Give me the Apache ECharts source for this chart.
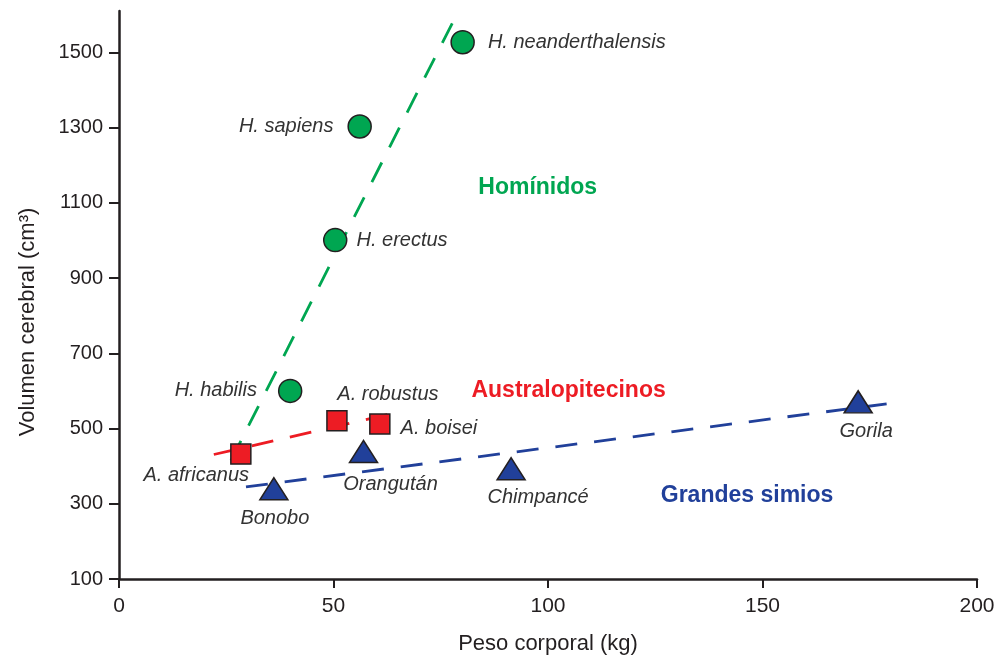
<!DOCTYPE html>
<html>
<head>
<meta charset="utf-8">
<script src="https://cdn.jsdelivr.net/npm/echarts@6/dist/echarts.min.js"></script>
<style>html,body{margin:0;padding:0;background:#fff}#c{width:998px;height:662px}</style>
</head>
<body>
<div id="c"></div>
<script>
// ---- data ----
var hominidNames = ['H. neanderthalensis', 'H. sapiens', 'H. erectus', 'H. habilis'];
var hominidMass = [80.1, 56.1, 50.4, 39.9];
var hominidBrain = [1527, 1303, 1001, 600];

var australNames = ['A. africanus', 'A. robustus', 'A. boisei'];
var australMass = [28.4, 50.8, 60.8];
var australBrain = [432, 521, 512];

var apeNames = ['Bonobo', 'Orangután', 'Chimpancé', 'Gorila'];
var apeMass = [36.1, 57.0, 91.4, 172.3];
var apeBrain = [340, 439, 393, 571];

var hominidTrend = [[26.1, 415], [77.8, 1580]];
var australTrend = [[22.1, 431], [65.7, 545]];
var apeTrend = [[29.6, 345], [180.0, 567]];

var groupNames = ['Homínidos', 'Australopitecinos', 'Grandes simios'];
var groupMass = [97.6, 104.8, 146.4];
var groupBrain = [1140, 601, 322];

var xTicks = [0, 50, 100, 150, 200];
var yTicks = [100, 300, 500, 700, 900, 1100, 1300, 1500];

// ---- styles ----
var GREEN = '#00A651', RED = '#ED1C24', BLUE = '#21409A', INK = '#231F20';
var FONT = '"Liberation Sans", Arial, Helvetica, sans-serif';

var labelPlacement = {
  'H. neanderthalensis': {position: 'right', distance: 13},
  'H. sapiens': {position: 'left', distance: 14},
  'H. erectus': {position: 'right', distance: 9},
  'H. habilis': {position: 'left', distance: 21},
  'A. africanus': {position: 'left', distance: 0, offset: [19, 21]},
  'A. robustus': {position: 'top', distance: 5, offset: [51, 0]},
  'A. boisei': {position: 'right', distance: 10, offset: [0, 4]},
  'Bonobo': {position: 'bottom', distance: 8, offset: [1, 0]},
  'Orangután': {position: 'bottom', distance: 11, offset: [27, 0]},
  'Chimpancé': {position: 'bottom', distance: 7, offset: [27, 0]},
  'Gorila': {position: 'bottom', distance: 8, offset: [8, 0]}
};

function pts(names, xs, ys) {
  return names.map(function (n, i) {
    var p = labelPlacement[n] || {};
    return {
      name: n, value: [xs[i], ys[i]],
      label: {position: p.position, distance: p.distance, offset: p.offset || [0, 0]}
    };
  });
}

var ptLabel = {
  show: true, formatter: '{b}', color: '#333333', fontStyle: 'italic',
  fontSize: 20, fontFamily: FONT
};

function trend(data, color) {
  return {
    type: 'line', data: data, symbol: 'none', silent: true, z: 1,
    lineStyle: {color: color, width: 2.8, type: [22, 17]}
  };
}

var groupColors = [GREEN, RED, BLUE];

var option = {
  animation: false,
  backgroundColor: '#fff',
  textStyle: {fontFamily: FONT},
  grid: {left: 119, right: 21, top: 11, bottom: 83, containLabel: false},
  xAxis: {
    type: 'value', min: 0, max: 200, interval: 50,
    name: 'Peso corporal (kg)', nameLocation: 'middle', nameGap: 54,
    nameTextStyle: {fontSize: 22, color: INK, fontFamily: FONT},
    axisLine: {show: true, onZero: false, lineStyle: {color: INK, width: 2.5}},
    axisTick: {show: true, length: 9, lineStyle: {color: INK, width: 2}, customValues: xTicks},
    axisLabel: {fontSize: 21, color: INK, margin: 17, fontFamily: FONT, customValues: xTicks},
    splitLine: {show: false}
  },
  yAxis: {
    type: 'value', min: 100, max: 1610, interval: 200,
    name: 'Volumen cerebral (cm³)', nameLocation: 'middle', nameGap: 80,
    nameTextStyle: {fontSize: 22, color: INK, fontFamily: FONT, padding: [0, 54, 0, 0]},
    axisLine: {show: true, onZero: false, lineStyle: {color: INK, width: 2.5}},
    axisTick: {show: true, length: 10, lineStyle: {color: INK, width: 2}, customValues: yTicks},
    axisLabel: {
      fontSize: 20, color: INK, margin: 16, fontFamily: FONT, customValues: yTicks,
      formatter: function (v) { return String(v); }
    },
    splitLine: {show: false}
  },
  series: [
    trend(hominidTrend, GREEN),
    trend(australTrend, RED),
    trend(apeTrend, BLUE),
    {
      type: 'scatter', symbol: 'circle', symbolSize: 23, z: 3,
      itemStyle: {color: GREEN, borderColor: INK, borderWidth: 1.5, opacity: 1},
      label: ptLabel, data: pts(hominidNames, hominidMass, hominidBrain)
    },
    {
      type: 'scatter', symbol: 'rect', symbolSize: 20, z: 3,
      itemStyle: {color: RED, borderColor: INK, borderWidth: 1.5, opacity: 1},
      label: ptLabel, data: pts(australNames, australMass, australBrain)
    },
    {
      type: 'scatter', symbol: 'triangle', symbolSize: [28, 22], z: 3,
      itemStyle: {color: BLUE, borderColor: INK, borderWidth: 1.5, opacity: 1},
      label: ptLabel, data: pts(apeNames, apeMass, apeBrain)
    },
    {
      type: 'scatter', symbolSize: 1, silent: true, z: 4,
      itemStyle: {color: 'rgba(0,0,0,0)', opacity: 1},
      data: groupNames.map(function (n, i) {
        return {
          name: n, value: [groupMass[i], groupBrain[i]],
          label: {
            show: true, position: 'inside', formatter: '{b}', color: groupColors[i],
            fontWeight: 'bold', fontSize: 23, fontFamily: FONT
          }
        };
      })
    }
  ]
};

var chart = echarts.init(document.getElementById('c'), null, {renderer: 'canvas'});
chart.setOption(option);
</script>
</body>
</html>
